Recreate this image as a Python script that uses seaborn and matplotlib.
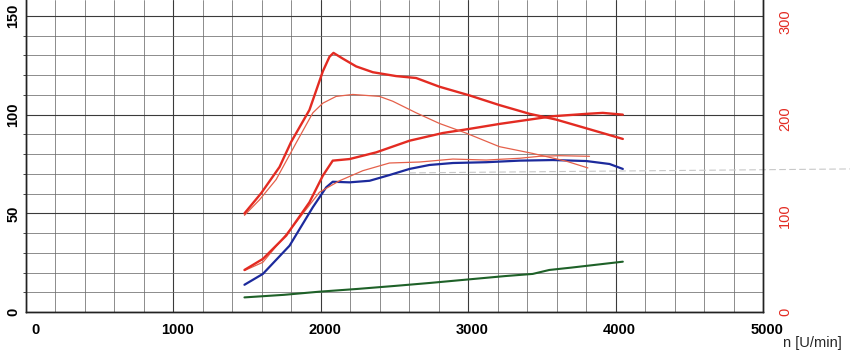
import pandas as pd
import seaborn as sns
import matplotlib.pyplot as plt
import matplotlib.transforms as mtransforms
from matplotlib.ticker import MultipleLocator

# engine speed n [U/min] and readings taken off the scanned diagram
# torque curves (right axis, Nm)
rpm_torque_tuned = [1482, 1596, 1720, 1799, 1923, 2014, 2059, 2086, 2150, 2240, 2353, 2511,
                    2647, 2805, 3009, 3212, 3416, 3597, 3801, 4049]
torque_tuned = [102, 123, 150, 176, 209, 249, 264, 268, 262, 254, 248, 244,
                242, 233, 224, 214, 205, 199, 190, 179]

rpm_torque_stock = [1482, 1584, 1697, 1833, 1946, 2014, 2104, 2217, 2398, 2488, 2647, 2805,
                    2986, 3212, 3438, 3665, 3812]
torque_stock = [100, 116, 137, 175, 206, 216, 223, 225, 223, 218, 206, 195,
                185, 171, 164, 156, 149]

# power curves (left axis, kW)
rpm_power_tuned = [1482, 1607, 1765, 1923, 2014, 2081, 2195, 2376, 2602, 2828, 3009, 3212,
                   3416, 3574, 3801, 3913, 4049]
power_tuned = [21.3, 26.9, 38.7, 55.6, 69.1, 76.7, 77.5, 80.9, 86.8, 90.7, 92.8, 95.3,
               97.5, 99.2, 100.4, 100.9, 100.0]

rpm_power_stock = [1482, 1607, 1833, 1991, 2127, 2285, 2466, 2670, 2896, 3122, 3348, 3484,
                   3620, 3823]
power_stock = [21.0, 25.2, 45.5, 60.7, 66.5, 71.6, 75.5, 76.0, 77.5, 77.0, 77.9, 78.9,
               79.2, 78.9]

rpm_blue = [1482, 1607, 1788, 1946, 2037, 2081, 2195, 2331, 2466, 2602, 2737, 2896,
            3122, 3348, 3574, 3801, 3959, 4049]
blue_vals = [13.8, 19.3, 33.6, 53.1, 63.2, 66.0, 65.7, 66.5, 69.4, 72.5, 74.5, 75.5,
             75.9, 76.7, 77.0, 76.5, 75.0, 72.5]

rpm_green = [1482, 1750, 1991, 2250, 2500, 2737, 2986, 3250, 3438, 3550, 3700, 4049]
green_vals = [7.4, 8.7, 10.3, 11.7, 13.2, 14.7, 16.4, 18.2, 19.3, 21.3, 22.5, 25.5]

# faint dashed scan line crossing the sheet
scan_x = [2600, 5600]
scan_y = [70.5, 72.5]

x_ticks = [0, 1000, 2000, 3000, 4000, 5000]
left_ticks = [0, 50, 100, 150]
right_ticks = [0, 100, 200, 300]

RED = '#e32b22'
RED_THIN = '#e5604a'
BLUE = '#1c2a9c'
GREEN = '#1e6128'

sns.set_style('white')
plt.rcParams['font.family'] = ['Liberation Sans', 'DejaVu Sans']

fig = plt.figure(figsize=(8.5, 3.57), dpi=100)
ax = fig.add_axes([26 / 850, 45 / 357, 737 / 850, 312 / 357])
ax2 = ax.twinx()

ax.set_xlim(0, 5000)
ax.set_ylim(0, 158.1)
ax2.set_ylim(0, 322.7)

# fine paper grid
ax.set_xticks(x_ticks)
ax.xaxis.set_minor_locator(MultipleLocator(200))
ax.set_yticks(left_ticks)
ax.yaxis.set_minor_locator(MultipleLocator(10))
ax.grid(which='major', color='#3a3a3a', lw=0.8)
ax.grid(which='minor', color='#6e6e6e', lw=0.55)
ax.set_axisbelow(True)

ax.plot(scan_x, scan_y, color='#c8c8c8', lw=0.8, ls=(0, (6, 3)), clip_on=False, zorder=1)

sns.lineplot(x=rpm_green, y=green_vals, ax=ax, color=GREEN, lw=1.5)
sns.lineplot(x=rpm_blue, y=blue_vals, ax=ax, color=BLUE, lw=1.6)
sns.lineplot(x=rpm_power_stock, y=power_stock, ax=ax, color=RED_THIN, lw=0.9)
sns.lineplot(x=rpm_power_tuned, y=power_tuned, ax=ax, color=RED, lw=1.7)
sns.lineplot(x=rpm_torque_stock, y=torque_stock, ax=ax2, color=RED_THIN, lw=0.9)
sns.lineplot(x=rpm_torque_tuned, y=torque_tuned, ax=ax2, color=RED, lw=1.7)

ax2.set_yticks(right_ticks)
ax.set_xlabel('')
ax.set_ylabel('')
ax2.set_ylabel('')

ax.tick_params(axis='x', length=0, pad=8, labelsize=10.5, labelcolor='black')
ax.tick_params(axis='y', length=0, pad=4, labelsize=10.5, labelrotation=90, labelcolor='black')
ax2.tick_params(axis='y', length=0, pad=11, labelsize=10.5, labelrotation=90, labelcolor=RED)
for lab in ax.get_yticklabels():
    lab.set_va('center')
    lab.set_fontweight('bold')
for lab in ax2.get_yticklabels():
    lab.set_va('center')

# tick labels on the sheet sit a little right of their lines
for i, lab in enumerate(ax.get_xticklabels()):
    dx = 9 if i == 0 else 4
    shift = mtransforms.ScaledTranslation(dx / 100, 0, fig.dpi_scale_trans)
    lab.set_transform(lab.get_transform() + shift)
    lab.set_fontweight('bold')

for a in (ax, ax2):
    a.spines['top'].set_visible(False)
    for s in ('left', 'bottom', 'right'):
        a.spines[s].set_color('#222222')
        a.spines[s].set_linewidth(1.0)

fig.text(812 / 850, 1 - 343 / 357, 'n [U/min]', ha='center', va='center', fontsize=10.5)

fig.savefig('out.png', dpi=100)
